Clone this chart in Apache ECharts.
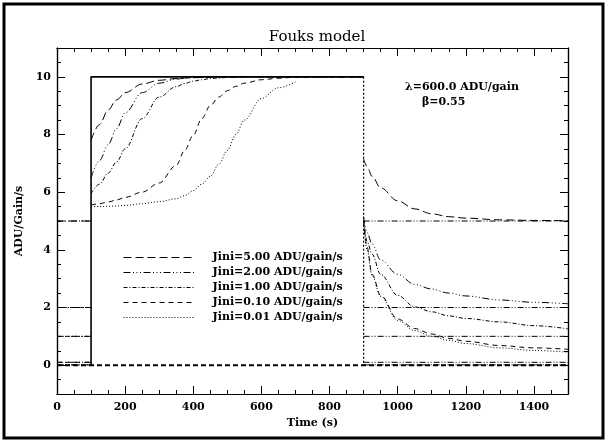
<!DOCTYPE html>
<html>
<head>
<meta charset="utf-8">
<script src="https://cdn.jsdelivr.net/npm/echarts@6/dist/echarts.min.js"></script>
<style>
  html, body { margin: 0; padding: 0; background: #fff; }
  #chart { width: 608px; height: 443px; }
</style>
</head>
<body>
<div id="chart"></div>
<script>
// time grid (s), 100 and 900 appear twice for the flux steps
const times = [0, 100, 100, 125, 150, 175, 200, 250, 300, 350, 375, 400, 425, 450, 475, 500, 525, 550, 600, 650, 700, 800, 900,
  900, 910, 925, 950, 1000, 1050, 1100, 1150, 1200, 1300, 1400, 1500];

const jiniLevels = [5, 2, 1, 0.1, 0.01];
const legendNames = ['Jini=5.00 ADU/gain/s', 'Jini=2.00 ADU/gain/s', 'Jini=1.00 ADU/gain/s',
  'Jini=0.10 ADU/gain/s', 'Jini=0.01 ADU/gain/s'];

// detector response
const resp500 = [5, 5, 7.8, 8.35, 8.85, 9.2, 9.45, 9.75, 9.88, 9.94, 9.96, 9.97, 9.98, 9.99, 10, 10, 10, 10, 10, 10, 10, 10, 10,
  7.15, 6.9, 6.55, 6.15, 5.7, 5.42, 5.25, 5.15, 5.1, 5.04, 5.02, 5.01];
const resp200 = [2, 2, 6.5, 7.1, 7.65, 8.2, 8.75, 9.45, 9.78, 9.92, 9.95, 9.97, 9.98, 9.99, 10, 10, 10, 10, 10, 10, 10, 10, 10,
  5.15, 4.6, 4.2, 3.65, 3.15, 2.8, 2.64, 2.5, 2.4, 2.26, 2.18, 2.13];
const resp100 = [1, 1, 5.95, 6.28, 6.66, 7.05, 7.5, 8.55, 9.3, 9.66, 9.77, 9.85, 9.9, 9.94, 9.96, 9.98, 9.99, 10, 10, 10, 10, 10, 10,
  5.05, 4.3, 3.85, 3.15, 2.42, 2.02, 1.85, 1.71, 1.62, 1.5, 1.37, 1.26];
const resp010 = [0.1, 0.1, 5.55, 5.6, 5.66, 5.73, 5.82, 6.0, 6.32, 6.93, 7.45, 7.98, 8.55, 9.0, 9.3, 9.52, 9.67, 9.78, 9.9, 9.95, 9.99, 10, 10,
  5.0, 4.1, 3.15, 2.42, 1.6, 1.27, 1.08, 0.93, 0.83, 0.68, 0.6, 0.55];
const resp001 = [0.01, 0.01, 5.5, 5.5, 5.51, 5.52, 5.54, 5.6, 5.67, 5.77, 5.88, 6.05, 6.28, 6.55, 6.97, 7.45, 8.0, 8.5, 9.25, 9.62, 9.82, '-', '-',
  5.0, 4.0, 3.1, 2.38, 1.55, 1.2, 1.0, 0.86, 0.75, 0.6, 0.51, 0.45];

const responses = [resp500, resp200, resp100, resp010, resp001];

const xMajor = [0, 200, 400, 600, 800, 1000, 1200, 1400];
const yMajor = [0, 2, 4, 6, 8, 10];

const chart = echarts.init(document.getElementById('chart'));

const font = 'DejaVu Serif';
const dashes = [
  [8, 4],
  [7, 2.5, 1, 2.5, 1, 2.5, 1, 2.5],
  [4, 2, 1, 2],
  [5, 4],
  [1, 2]
];

// break the line where the time repeats, so each piece is smoothed on its own
function toPoints(vals) {
  const pts = [];
  times.forEach((t, k) => {
    if (k > 0 && times[k - 1] === t) pts.push([t, '-']);
    pts.push([t, vals[k]]);
  });
  return pts;
}

const series = [];

// input flux: Jini levels outside the step
jiniLevels.forEach(j => {
  series.push({
    type: 'line', silent: true, symbol: 'none',
    data: [[0, j], [100, j], [500, '-'], [900, j], [1500, j]],
    lineStyle: { color: '#000', width: 1, type: [6, 2, 1, 2, 1, 2] }
  });
});
// the step itself
series.push({
  type: 'line', silent: true, symbol: 'none',
  data: [[100, 0], [100, 10], [900, 10]],
  lineStyle: { color: '#000', width: 1.6 }
});
series.push({
  type: 'line', silent: true, symbol: 'none',
  data: [[900, 10], [900, 0]],
  lineStyle: { color: '#000', width: 1.2, type: [2, 2] }
});
// zero line
series.push({
  type: 'line', silent: true, symbol: 'none',
  data: [[0, 0], [1500, 0]],
  lineStyle: { color: '#000', width: 2, type: [5, 3] }
});

responses.forEach((vals, i) => {
  series.push({
    type: 'line',
    name: legendNames[i],
    symbol: 'none',
    smooth: 0.35,
    smoothMonotone: 'x',
    data: toPoints(vals),
    itemStyle: { color: '#000' },
    lineStyle: { color: '#000', width: 1, type: dashes[i] }
  });
});

const tickStyle = { color: '#000', width: 1 };
const labelStyle = { color: '#000', fontFamily: font, fontWeight: 'bold', fontSize: 11 };
const plain = v => String(v);

function xAx(pos, major) {
  return {
    type: 'value', position: pos, min: 0, max: 1500,
    interval: major ? 200 : 50,
    axisLine: { show: true, onZero: false, lineStyle: { color: '#000', width: 1.2 } },
    axisTick: major
      ? { show: true, inside: true, length: 8, lineStyle: tickStyle, customValues: xMajor }
      : { show: true, inside: true, length: 4, lineStyle: tickStyle },
    axisLabel: (major && pos === 'bottom')
      ? Object.assign({ show: true, margin: 8, customValues: xMajor, formatter: plain }, labelStyle)
      : { show: false },
    splitLine: { show: false },
    name: (major && pos === 'bottom') ? 'Time (s)' : '',
    nameLocation: 'middle', nameGap: 24,
    nameTextStyle: labelStyle
  };
}
function yAx(pos, major) {
  return {
    type: 'value', position: pos, min: -1, max: 11,
    interval: major ? 2 : 0.5,
    axisLine: { show: true, onZero: false, lineStyle: { color: '#000', width: 1.2 } },
    axisTick: major
      ? { show: true, inside: true, length: 8, lineStyle: tickStyle, customValues: yMajor }
      : { show: true, inside: true, length: 4, lineStyle: tickStyle },
    axisLabel: (major && pos === 'left')
      ? Object.assign({ show: true, margin: 6, customValues: yMajor, formatter: plain }, labelStyle)
      : { show: false },
    splitLine: { show: false },
    name: (major && pos === 'left') ? 'ADU/Gain/s' : '',
    nameLocation: 'middle', nameGap: 26,
    nameTextStyle: labelStyle
  };
}

chart.setOption({
  animation: false,
  backgroundColor: '#fff',
  title: {
    text: 'Fouks model', left: 312, top: 25, textAlign: 'center',
    textStyle: { fontFamily: font, fontWeight: 'normal', fontSize: 15, color: '#000' }
  },
  grid: { left: 57, right: 40, top: 48, bottom: 49 },
  xAxis: [xAx('bottom', false), xAx('bottom', true), xAx('top', false), xAx('top', true)],
  yAxis: [yAx('left', false), yAx('left', true), yAx('right', false), yAx('right', true)],
  legend: {
    data: legendNames,
    orient: 'vertical', left: 123, top: 252,
    itemWidth: 72, itemHeight: 8, itemGap: 4, padding: 0,
    itemStyle: { opacity: 0 },
    lineStyle: { width: 1 },
    textStyle: Object.assign({ padding: [0, 0, 0, 12] }, labelStyle),
    selectedMode: false
  },
  graphic: [
    {
      type: 'rect', shape: { x: 4, y: 4, width: 599, height: 434 }, silent: true,
      style: { fill: 'none', stroke: '#000', lineWidth: 3 }
    },
    {
      type: 'text', left: 405, top: 82, silent: true,
      style: { text: 'λ=600.0 ADU/gain', fill: '#000', font: 'bold 11px "DejaVu Serif"' }
    },
    {
      type: 'text', left: 422, top: 97, silent: true,
      style: { text: 'β=0.55', fill: '#000', font: 'bold 11px "DejaVu Serif"' }
    }
  ],
  series: series
});
</script>
</body>
</html>
